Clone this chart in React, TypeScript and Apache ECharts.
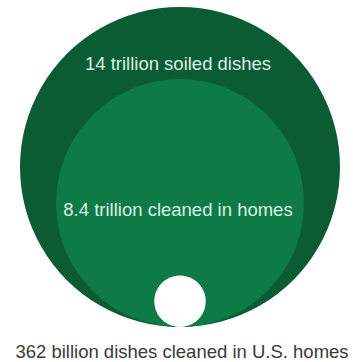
import React, { useEffect, useRef } from "react";
import * as echarts from "echarts";

const categories = ["14 trillion soiled dishes", "8.4 trillion cleaned in homes", "362 billion dishes cleaned in U.S. homes"];
const valuesTrillion = [14, 8.4, 0.362];
const colors = ["#0b5c33", "#0e7a45", "#ffffff"];

export default function App() {
  const ref = useRef<HTMLDivElement>(null);
  useEffect(() => {
    document.body.style.margin = "0";
    const chart = echarts.init(ref.current!, null, { renderer: "svg" });
    const maxV = Math.max(...valuesTrillion);
    chart.setOption({
      animation: false,
      backgroundColor: "#ffffff",
      grid: { left: 19, right: 12, top: 7, bottom: 35 },
      xAxis: { type: "value", min: -1, max: 1, show: false },
      yAxis: { type: "value", min: 0, max: 1, show: false },
      series: [
        {
          type: "custom",
          coordinateSystem: "cartesian2d",
          data: valuesTrillion.map((v, i) => [0, 0, v, i]),
          renderItem: (params: any, api: any) => {
            const v = api.value(2);
            const i = api.value(3);
            const base = api.coord([0, 0]);
            const cs = params.coordSys;
            const rMax = cs.height / 2;
            const r = rMax * Math.sqrt(v / maxV);
            const cx = base[0];
            const cy = base[1] - r;
            const children: any[] = [
              {
                type: "circle",
                shape: { cx, cy, r },
                style: { fill: colors[i] },
              },
            ];
            let ty = cy;
            let fill = "#dcefe4";
            if (i === 0) ty = cy - r * 0.65;
            else if (i === 1) ty = cy + 6;
            else {
              ty = base[1] + 24;
              fill = "#3a3a3a";
            }
            children.push({
              type: "text",
              style: {
                x: i === 2 ? cx + 2 : cx - 2,
                y: ty,
                text: categories[i],
                fill,
                font: "18.5px 'Liberation Sans', Arial, sans-serif",
                align: "center",
                verticalAlign: "middle",
              },
            });
            return { type: "group", children };
          },
        },
      ],
    });
    return () => chart.dispose();
  }, []);
  return <div ref={ref} style={{ width: 353, height: 362 }} />;
}
